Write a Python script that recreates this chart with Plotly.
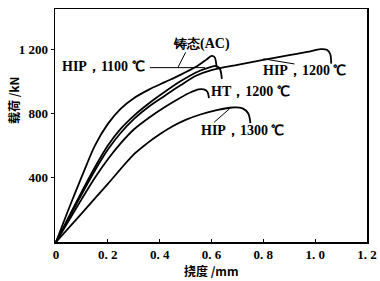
import plotly.graph_objects as go

# deflection (mm) / load (kN)
hip1100_x = [0, 0.05, 0.1, 0.15, 0.2, 0.25, 0.3, 0.36, 0.42, 0.48, 0.54, 0.58, 0.6, 0.612, 0.62]
hip1100_y = [0, 210, 410, 600, 735, 830, 895, 950, 995, 1040, 1090, 1135, 1158, 1150, 1085]

ac_x = [0, 0.05, 0.1, 0.15, 0.2, 0.25, 0.3, 0.36, 0.42, 0.48, 0.54, 0.59, 0.62, 0.633, 0.64]
ac_y = [0, 160, 315, 465, 600, 705, 785, 865, 935, 1000, 1055, 1085, 1095, 1075, 1015]

hip1200_x = [0, 0.05, 0.1, 0.15, 0.2, 0.25, 0.3, 0.36, 0.42, 0.48, 0.54, 0.6, 0.7, 0.8, 0.9, 0.97, 1.02, 1.045, 1.058, 1.062]
hip1200_y = [0, 150, 300, 445, 575, 680, 765, 845, 910, 975, 1035, 1070, 1103, 1133, 1163, 1183, 1200, 1196, 1170, 1110]

ht1200_x = [0, 0.05, 0.1, 0.15, 0.2, 0.25, 0.3, 0.36, 0.42, 0.48, 0.52, 0.55, 0.57, 0.584, 0.59]
ht1200_y = [0, 135, 270, 400, 515, 615, 700, 775, 840, 898, 932, 950, 950, 935, 895]

hip1300_x = [0, 0.1, 0.2, 0.3, 0.35, 0.4, 0.45, 0.5, 0.56, 0.62, 0.68, 0.72, 0.742, 0.75]
hip1300_y = [0, 180, 362, 545, 612, 670, 720, 760, 795, 820, 837, 832, 800, 740]

x_ticks = [0, 0.2, 0.4, 0.6, 0.8, 1.0, 1.2]
x_tick_text = ["0", "0. 2", "0. 4", "0. 6", "0. 8", "1. 0", "1. 2"]
y_ticks = [400, 800, 1200]
y_tick_text = ["400", "800", "1 200"]

fig = go.Figure()
for xs, ys, nm in [(hip1100_x, hip1100_y, "HIP, 1100"), (ac_x, ac_y, "AC"),
                   (hip1200_x, hip1200_y, "HIP, 1200"), (ht1200_x, ht1200_y, "HT, 1200"),
                   (hip1300_x, hip1300_y, "HIP, 1300")]:
    fig.add_trace(go.Scatter(x=xs, y=ys, mode="lines", name=nm,
                             line=dict(color="black", width=1.8, shape="spline", smoothing=0.8),
                             showlegend=False, hoverinfo="skip"))

serif = "Liberation Serif"

def label(text, x, y, size=14):
    fig.add_annotation(x=x, y=y, text=text, showarrow=False,
                       font=dict(family=serif, size=size, color="black"))

label("<b>HIP，1100 ℃</b>", 0.185, 1090)
label("<b>铸态<span style='font-size:14px'>(AC)</span></b>", 0.56, 1230, 13)
label("<b>HIP，1200 ℃</b>", 0.96, 1066)
label("<b>HT，1200 ℃</b>", 0.75, 936)
label("<b>HIP，1300 ℃</b>", 0.72, 694)

# leader lines
leaders = [((0.362, 1085), (0.575, 1085)),
           ((0.50, 1180), (0.47, 1085)),
           ((0.80, 1140), (0.92, 1108)),
           ((0.61, 745), (0.67, 830))]
for (x0, y0), (x1, y1) in leaders:
    fig.add_shape(type="line", x0=x0, y0=y0, x1=x1, y1=y1, line=dict(color="black", width=1))

fig.add_annotation(x=0.5, y=-0.122, xref="paper", yref="paper", xanchor="center", yanchor="middle",
                   text="<b>挠度 /mm</b>", showarrow=False,
                   font=dict(family="Noto Sans CJK SC", size=12, color="black"))
fig.add_annotation(x=-0.131, y=0.61, xref="paper", yref="paper", xanchor="center", yanchor="middle",
                   text="<b>载荷 /kN</b>", textangle=-90, showarrow=False,
                   font=dict(family="Noto Sans CJK SC", size=12, color="black"))

fig.update_xaxes(range=[-0.004, 1.2], tickvals=x_ticks, ticktext=["<b>%s</b>" % t for t in x_tick_text],
                 showline=True, linecolor="black", linewidth=1.5, mirror=True, automargin=False,
                 ticks="inside", ticklen=3, tickcolor="black", showgrid=False, zeroline=False,
                 tickfont=dict(family=serif, size=13, color="black"))
fig.update_yaxes(range=[0, 1450], tickvals=y_ticks, ticktext=["<b>%s</b>" % t for t in y_tick_text],
                 showline=True, linecolor="black", linewidth=1.5, mirror=True, automargin=False,
                 ticks="outside", ticklen=3, tickcolor="black", showgrid=False, zeroline=False,
                 tickfont=dict(family=serif, size=13, color="black"))
fig.update_layout(width=380, height=281, margin=dict(l=55, r=13, t=9, b=39),
                  plot_bgcolor="white", paper_bgcolor="white", hovermode=False)
fig.write_html("out.html", config={"displayModeBar": False, "staticPlot": True},
               post_script="document.body.style.margin='0';document.body.style.overflow='hidden';")
